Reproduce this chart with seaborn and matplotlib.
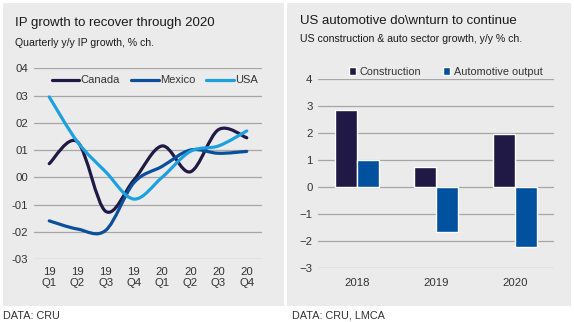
import numpy as np
import pandas as pd
import matplotlib
matplotlib.use("Agg")
import matplotlib.pyplot as plt
from matplotlib.path import Path
from matplotlib.patches import PathPatch, Rectangle
from matplotlib.lines import Line2D
import seaborn as sns

# ---------------- data ----------------
quarters = ["19\nQ1", "19\nQ2", "19\nQ3", "19\nQ4", "20\nQ1", "20\nQ2", "20\nQ3", "20\nQ4"]
canada = [0.05, 0.13, -0.125, -0.01, 0.115, 0.02, 0.175, 0.145]
mexico = [-0.16, -0.19, -0.195, -0.02, 0.04, 0.10, 0.088, 0.095]
usa = [0.295, 0.13, 0.02, -0.08, 0.00, 0.095, 0.115, 0.17]
left_yticks = [-0.3, -0.2, -0.1, 0.0, 0.1, 0.2, 0.3, 0.4]
left_yticklabels = ["-03", "-02", "-01", "00", "01", "02", "03", "04"]

years = ["2018", "2019", "2020"]
construction = [2.88, 0.77, 1.99]
automotive = [1.01, -1.67, -2.22]
right_yticks = [-3, -2, -1, 0, 1, 2, 3, 4]

# ---------------- style ----------------
sns.set_theme(style="white")
plt.rcParams["font.family"] = ["Liberation Sans", "DejaVu Sans"]

C_CAN = "#201945"
C_MEX = "#0a4f9c"
C_USA = "#1da1de"
C_CON = "#201945"
C_AUT = "#00529f"
BG = "#ebebeb"
GRID = "#a6a6a6"
TXT = "#333333"

W, H = 574, 322
fig = plt.figure(figsize=(W / 100, H / 100), dpi=100, facecolor="white")

def px_rect(x0, y0, x1, y1):
    return [x0 / W, 1 - y1 / H, (x1 - x0) / W, (y1 - y0) / H]

# panel backgrounds
for (x0, y0, x1, y1) in [(3, 3, 284, 306), (287, 3, 571, 306)]:
    r = px_rect(x0, y0, x1, y1)
    fig.patches.append(Rectangle((r[0], r[1]), r[2], r[3], transform=fig.transFigure,
                                 facecolor=BG, edgecolor="none", zorder=-5))

# titles
fig.text(15 / W, 1 - 23 / H, "IP growth to recover through 2020", fontsize=9.5, color="#1a1a1a", va="center")
fig.text(15 / W, 1 - 43 / H, "Quarterly y/y IP growth, % ch.", fontsize=7.6, color="#1a1a1a", va="center")
fig.text(300 / W, 1 - 20.5 / H, "US automotive do\\wnturn to continue", fontsize=9.5, color="#1a1a1a", va="center")
fig.text(300 / W, 1 - 38.5 / H, "US construction & auto sector growth, y/y % ch.", fontsize=7.6, color="#1a1a1a", va="center")
fig.text(3 / W, 1 - 316 / H, "DATA: CRU", fontsize=7.8, color="#333333", va="center")
fig.text(292 / W, 1 - 316 / H, "DATA: CRU, LMCA", fontsize=7.8, color="#333333", va="center")

# ---------------- left: smoothed lines ----------------
axL = fig.add_axes(px_rect(34, 68.3, 262, 259))
axL.set_facecolor("none")

def smooth_path(xs, ys):
    pts = np.column_stack([xs, ys]).astype(float)
    n = len(pts)
    verts = [pts[0]]
    codes = [Path.MOVETO]
    for i in range(n - 1):
        p0 = pts[i - 1] if i > 0 else pts[i]
        p1 = pts[i]
        p2 = pts[i + 1]
        p3 = pts[i + 2] if i + 2 < n else pts[i + 1]
        c1 = p1 + (p2 - p0) / 6.0
        c2 = p2 - (p3 - p1) / 6.0
        verts += [c1, c2, p2]
        codes += [Path.CURVE4] * 3
    return Path(verts, codes)

xpos = np.arange(len(quarters))
handles = []
for name, vals, col in [("Canada", canada, C_CAN), ("Mexico", mexico, C_MEX), ("USA", usa, C_USA)]:
    patch = PathPatch(smooth_path(xpos, vals), facecolor="none", edgecolor=col, lw=2.3,
                      capstyle="round", joinstyle="round", zorder=3)
    axL.add_patch(patch)
    handles.append(Line2D([], [], color=col, lw=2.3, label=name))

axL.set_xlim(-0.54, 7.54)
axL.set_ylim(-0.3, 0.4)
axL.set_yticks(left_yticks)
axL.set_yticklabels(left_yticklabels)
axL.set_xticks(xpos)
axL.set_xticklabels(quarters, linespacing=1.05)
axL.grid(axis="y", color=GRID, lw=0.9)
axL.set_axisbelow(True)
for s in axL.spines.values():
    s.set_visible(False)
axL.tick_params(axis="both", length=0, labelsize=8.2, colors=TXT, pad=4)
axL.tick_params(axis="x", pad=6)
axL.legend(handles=handles, loc="upper center", bbox_to_anchor=(0.53, 1.015), ncol=3,
           frameon=False, fontsize=8, handlelength=2.5, handletextpad=0.1,
           columnspacing=1.0, labelcolor=TXT)

# ---------------- right: bars ----------------
axR = fig.add_axes(px_rect(318, 79.3, 554, 268.3))
axR.set_facecolor("none")
df = pd.DataFrame({
    "year": years * 2,
    "value": construction + automotive,
    "series": ["Construction"] * len(years) + ["Automotive output"] * len(years),
})
sns.barplot(data=df, x="year", y="value", hue="series", ax=axR,
            palette=[C_CON, C_AUT], width=0.56, gap=0, saturation=1, zorder=3)
axR.set_xlim(-0.5, 2.5)
axR.set_ylim(-3, 4)
axR.set_yticks(right_yticks)
axR.set_xlabel("")
axR.set_ylabel("")
axR.grid(axis="y", color=GRID, lw=0.9)
axR.set_axisbelow(True)
for s in axR.spines.values():
    s.set_visible(False)
axR.tick_params(axis="both", length=0, labelsize=8.2, colors=TXT, pad=4)
axR.tick_params(axis="x", pad=7)
axR.legend(loc="lower center", bbox_to_anchor=(0.54, 0.98), ncol=2, frameon=False, fontsize=7.8,
           handlelength=0.7, handleheight=0.7, handletextpad=0.3, columnspacing=2.0,
           labelcolor=TXT, borderaxespad=0.2)

fig.savefig("out.png", dpi=100, facecolor="white")
